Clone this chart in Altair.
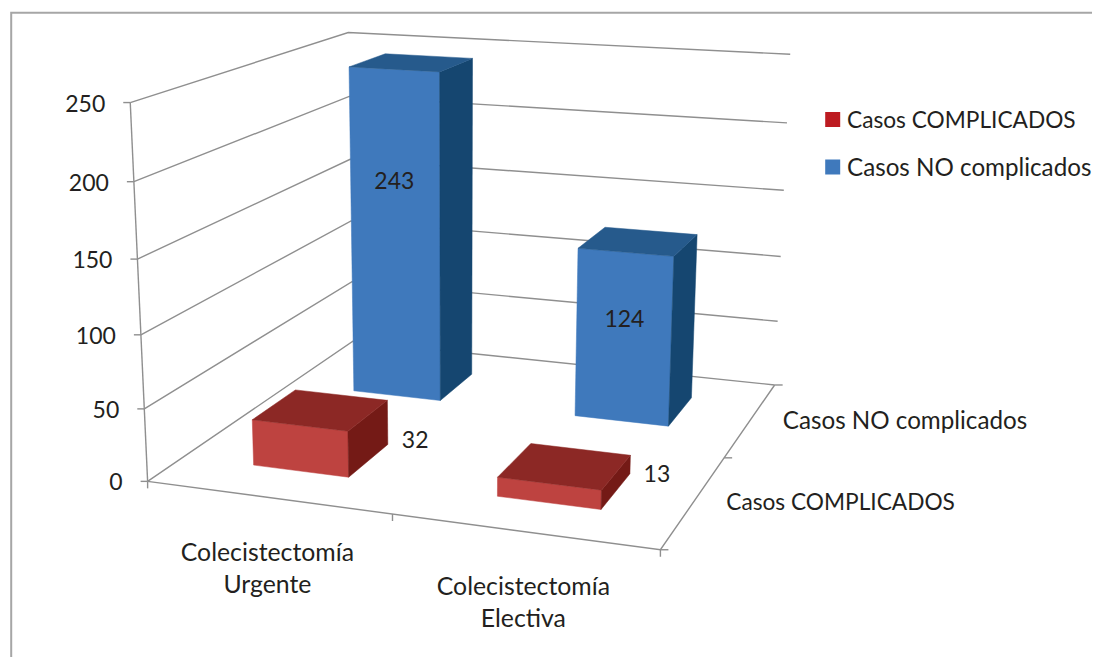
import numpy as np
import pandas as pd
import altair as alt

# ---------- chart values ----------
categories = ["Colecistectomía\nUrgente", "Colecistectomía\nElectiva"]
series = ["Casos COMPLICADOS", "Casos NO complicados"]
values = {"Casos COMPLICADOS": [32, 13], "Casos NO complicados": [243, 124]}
value_ticks = [0, 50, 100, 150, 200, 250]
label_offsets = {  # data-label shift from the middle of the bar's front face
    "Casos COMPLICADOS": [(115, -7), (108, -18)],
    "Casos NO complicados": [(-1, -54), (1, -18)],
}
front_col = {"Casos COMPLICADOS": "#BE4340", "Casos NO complicados": "#3F79BC"}
side_col = {"Casos COMPLICADOS": "#741A16", "Casos NO complicados": "#154670"}
top_col = {"Casos COMPLICADOS": "#8C2825", "Casos NO complicados": "#265A8C"}
legend_col = {"Casos COMPLICADOS": "#BD1B21", "Casos NO complicados": "#3F79BC"}
series_fs = {"Casos COMPLICADOS": 22.7, "Casos NO complicados": 24.2}

GRID = "#8F8F8F"
BORDER = "#A6A6A6"
TEXT = "#231F20"
FONT = "Lato"
FS = 23
CAT_FS = 24.8

# ---------- perspective camera (calibrated on the chart box corners) ----------
calib = [
    ((0, 0, 0), (147.3, 481)), ((0, 0, 250), (130.5, 102.7)),
    ((0, 1, 0), (353.2, 341.6)), ((0, 1, 250), (348, 32.3)),
    ((1, 1, 0), (774.5, 384.7)), ((1, 1, 250), (790.3, 54.3)),
    ((1, 0, 0), (660.5, 550)),
]
A, B = [], []
for (u, v, z), (px, py) in calib:
    z = z / 250
    A.append([u, v, z, 1, 0, 0, 0, 0, -px * u, -px * v, -px * z]); B.append(px)
    A.append([0, 0, 0, 0, u, v, z, 1, -py * u, -py * v, -py * z]); B.append(py)
cam = np.append(np.linalg.lstsq(np.array(A, float), np.array(B, float), rcond=None)[0], 1).reshape(3, 4)


def P(u, v, z):
    q = cam @ np.array([u, v, z / 250, 1.0])
    return float(q[0] / q[2]), float(q[1] / q[2])


# ---------- grid and ticks ----------
rows = []
seg = 0


def add(points):
    global seg
    for i, (x, y) in enumerate(points):
        rows.append({"seg": seg, "i": i, "x": x, "y": y})
    seg += 1


for t in value_ticks:
    add([P(0, 0, t), P(0, 1, t), P(1, 1, t)])
    fx, fy = P(0, 0, t)
    add([(fx - 7, fy), (fx, fy)])
add([P(0, 0, 0), P(0, 0, 250)])
add([P(0, 0, 0), P(1, 0, 0), P(1, 1, 0)])
for u in [0, 0.5, 1]:
    x0, y0 = P(u, 0, 0)
    add([(x0, y0), (x0, y0 + 7)])
for v in [0, 0.5, 1]:
    x0, y0 = P(1, v, 0)
    add([(x0, y0), (x0 + 8, y0)])
grid_df = pd.DataFrame(rows)

X = alt.X("x:Q", scale=alt.Scale(domain=[8, 1092], nice=False, zero=False), axis=None)
Y = alt.Y("y:Q", scale=alt.Scale(domain=[657, 8], nice=False, zero=False), axis=None)
layers = []

# outer frame
frame = pd.DataFrame({"seg": [0, 0, 0], "i": [0, 1, 2], "x": [11.2, 11.2, 1092], "y": [657, 12.8, 12.8]})
layers.append(alt.Chart(frame).mark_line(color=BORDER, strokeWidth=2, clip=False).encode(
    x=X, y=Y, detail="seg:N", order="i:Q"))
layers.append(alt.Chart(grid_df).mark_line(color=GRID, strokeWidth=1.4).encode(
    x=X, y=Y, detail="seg:N", order="i:Q"))


# ---------- bars: back series first, each with front, side, top faces ----------
def face(points, color):
    pts = points + [points[0]]
    df = pd.DataFrame({"i": range(len(pts)), "x": [p[0] for p in pts], "y": [p[1] for p in pts]})
    return alt.Chart(df).mark_line(fill=color, stroke=color, strokeWidth=0.5).encode(x=X, y=Y, order="i:Q")


for s_i in [1, 0]:
    s = series[s_i]
    v0, v1 = s_i * 0.5 + 0.15, s_i * 0.5 + 0.35
    for c_i in range(len(categories)):
        u0, u1 = c_i * 0.5 + 0.15, c_i * 0.5 + 0.35
        h = values[s][c_i]
        layers.append(face([P(u0, v0, 0), P(u1, v0, 0), P(u1, v0, h), P(u0, v0, h)], front_col[s]))
        layers.append(face([P(u1, v0, 0), P(u1, v1, 0), P(u1, v1, h), P(u1, v0, h)], side_col[s]))
        layers.append(face([P(u0, v0, h), P(u1, v0, h), P(u1, v1, h), P(u0, v1, h)], top_col[s]))

# ---------- text ----------
txt = []
for t in value_ticks:
    x0, y0 = P(0, 0, t)
    txt.append({"x": x0 - 25, "y": y0 + 2, "t": str(t), "a": "right", "fs": FS})
for c_i, c in enumerate(categories):
    x0, y0 = P(c_i * 0.5 + 0.25, 0, 0)
    for k, line in enumerate(c.split("\n")):
        txt.append({"x": x0, "y": y0 + 56.5 + 32 * k, "t": line, "a": "center", "fs": CAT_FS})
for s_i, s in enumerate(series):
    x0, y0 = P(1, s_i * 0.5 + 0.25, 0)
    txt.append({"x": x0 + 32, "y": y0 + 2.5, "t": s, "a": "left", "fs": series_fs[s]})
    for c_i in range(len(categories)):
        h = values[s][c_i]
        x0, y0 = P(c_i * 0.5 + 0.25, s_i * 0.5 + 0.15, h / 2)
        dx, dy = label_offsets[s][c_i]
        txt.append({"x": x0 + dx, "y": y0 + dy, "t": str(h), "a": "center", "fs": FS})
    # legend entry
    txt.append({"x": 847, "y": 121 + 47.5 * s_i, "t": s, "a": "left", "fs": series_fs[s]})
txt_df = pd.DataFrame(txt)
for a in ["left", "center", "right"]:
    layers.append(alt.Chart(txt_df[txt_df.a == a]).mark_text(
        align=a, baseline="middle", font=FONT, color=TEXT).encode(
        x=X, y=Y, text="t:N", size=alt.Size("fs:Q", scale=None)))

leg_df = pd.DataFrame({"x": [832.7] * 2, "y": [119.5 + 47.5 * i for i in range(2)], "c": [legend_col[s] for s in series]})
layers.append(alt.Chart(leg_df).mark_square(size=225, opacity=1).encode(
    x=X, y=Y, color=alt.Color("c:N", scale=None)))

chart = alt.layer(*layers).properties(
    width=1084, height=649, padding=0, autosize=alt.AutoSizeParams(type="none"), background="white"
).configure_view(stroke=None)

chart.save("out.html", embed_options={"renderer": "svg", "actions": False})
